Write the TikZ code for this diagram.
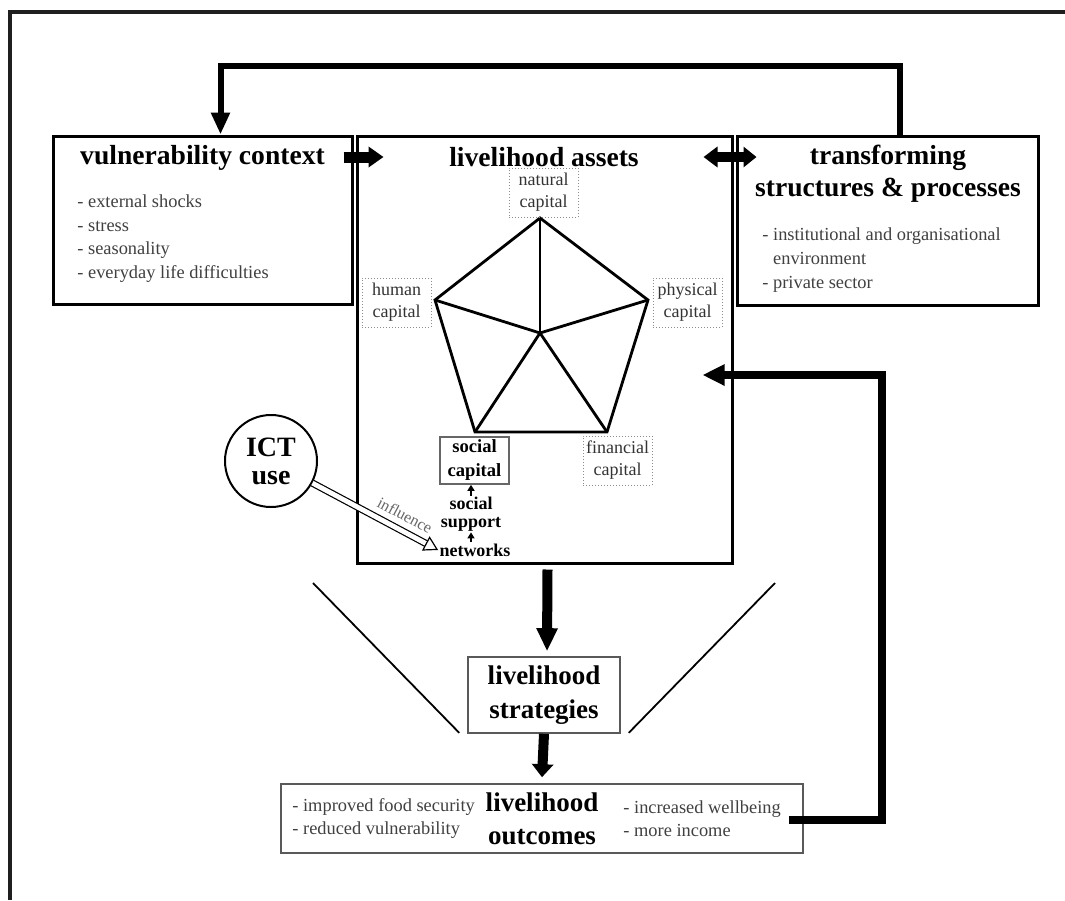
\documentclass[tikz,border=0pt]{standalone}
\usepackage{fontspec}
\setmainfont{Liberation Serif}
\usetikzlibrary{arrows.meta,positioning,calc}
\tikzset{
  bigbox/.style = {draw, line width=1.5pt, inner sep=0pt},
  thinbox/.style = {draw=black!65, line width=0.8pt, inner sep=0pt},
  head/.style = {font=\fontsize{13.8}{16}\selectfont\bfseries, align=center, inner sep=0pt},
  bullets/.style = {font=\fontsize{9.2}{11.8}\selectfont, text=black!75, align=left, inner sep=0pt},
  capbox/.style = {draw=black!45, densely dotted, line width=0.5pt, minimum width=34.5pt,
                   minimum height=24.5pt, inner sep=0pt, align=center,
                   font=\fontsize{9}{11}\selectfont, text=black!80},
  socbox/.style = {draw=black!60, line width=0.8pt, minimum width=34.5pt, minimum height=23.5pt,
                   inner sep=0pt, align=center, font=\fontsize{9.3}{12}\selectfont\bfseries},
  smallbold/.style = {font=\fontsize{9}{8.8}\selectfont\bfseries, align=center, inner sep=0.5pt},
  pent/.style = {line width=1.4pt, line join=miter},
  fatarrow/.style = {line width=5.5pt, -{Triangle[length=7.5pt, width=10pt]}},
  tinyarrow/.style = {line width=1pt, -{Triangle[length=3pt, width=3.5pt]}},
  loopline/.style = {line width=3pt, -{Triangle[length=11pt, width=9pt]}}
}

\begin{document}
\begin{tikzpicture}[x=0.5pt, y=-0.5pt]
	\useasboundingbox (0,0) rectangle (1065,900);

	% Frame
	\draw[black!88, line width=2pt] (10,900) -- (10,12) -- (1066,12);

	% Boxes
	\node[bigbox, minimum width=149.5pt, minimum height=84pt] (vuln) at (202.5,220) {};
	\node[bigbox, minimum width=187.5pt, minimum height=213.5pt] (assets) at (544.5,349.5) {};
	\node[bigbox, minimum width=150.5pt, minimum height=84.5pt] (trans) at (887.5,220.5) {};

	% Vulnerability context
	\node[head] (vulnhead) at (202.5,158) {vulnerability context};
	\node[bullets, anchor=west] (vulnlist) at (77,238.5)
		{- external shocks\\- stress\\- seasonality\\- everyday life difficulties};

	% Livelihood assets
	\node[head] (assetshead) at (544,157) {livelihood assets};

	% Transforming structures
	\node[head] (transhead) at (888,174) {transforming\\structures \& processes};
	\node[bullets, anchor=west] (translist) at (762,260)
		{- institutional and organisational\\\phantom{- }environment\\- private sector};

	% Pentagon
	\coordinate (pN) at (540,218);
	\coordinate (pP) at (648,300);
	\coordinate (pF) at (607,432);
	\coordinate (pS) at (475,432);
	\coordinate (pH) at (435,300);
	\coordinate (pC) at (540,333);
	\draw[pent] (pN) -- (pP) -- (pF) -- (pS) -- (pH) -- cycle;
	\foreach \v in {pN,pP,pF,pS,pH}
		\draw[pent] (pC) -- (\v);

	% Capitals
	\node[capbox] (natural) at (543.5,192.5) {natural\\capital};
	\node[capbox] (human) at (396.5,302.5) {human\\capital};
	\node[capbox] (physical) at (687.5,302.5) {physical\\capital};
	\node[capbox] (financial) at (617.5,460.5) {financial\\capital};
	\node[socbox] (soccap) at (474.5,460.5) {social\\capital};

	% Social support networks
	\node[smallbold] (support) at (471,514) {social\\support};
	\node[smallbold] (netw) at (475,550) {networks};
	\draw[tinyarrow] (netw.north -| support.center) -- (support.south);
	\draw[tinyarrow] (support.north) -- (soccap.south -| support.center);

	% ICT use
	\node[circle, draw, line width=1pt, minimum size=46pt, inner sep=0pt, align=center,
		font=\fontsize{14}{14}\selectfont\bfseries] (ict) at (271,461) {ICT\\use};
	\draw[line width=0.6pt, double=white, double distance=2.4pt,
		-{Triangle[open, length=7pt, width=8pt]}] (ict) -- (netw.west)
		node[pos=0.68, sloped, above=1pt, font=\fontsize{8}{8}\selectfont, text=black!60] (infltxt) {influence};

	% Strategies & outcomes
	\node[thinbox, head, font=\fontsize{13.5}{17}\selectfont\bfseries,
		minimum width=76pt, minimum height=38pt] (strat) at (544,695) {livelihood\\strategies};
	\node[thinbox, head, font=\fontsize{13.5}{16.5}\selectfont\bfseries,
		minimum width=261pt, minimum height=34.5pt] (outcomes) at (542,818.5) {livelihood\\outcomes};
	\node[bullets, anchor=west, font=\fontsize{9.2}{11.5}\selectfont] (outleft) at (292,818.5)
		{- improved food security\\- reduced vulnerability};
	\node[bullets, anchor=west, font=\fontsize{9.2}{11.5}\selectfont] (outright) at (623,818.5)
		{- increased wellbeing\\- more income};

	% V lines
	\coordinate (vleft) at (313,583);
	\coordinate (vright) at (775,583);
	\draw[line width=0.9pt] (vleft) -- ($(strat.south west)+(-8,-1)$);
	\draw[line width=0.9pt] (vright) -- ($(strat.south east)+(8,-1)$);

	% Arrows
	\draw[fatarrow] ($(vuln.east |- assetshead)+(-10,0)$) -- ($(assets.west |- assetshead)+(28,0)$);
	\draw[line width=5pt, {Triangle[length=7pt, width=10pt]}-{Triangle[length=6.5pt, width=10pt]}]
		($(assets.east |- assetshead)+(-30,0)$) -- ($(trans.west |- assetshead)+(21,0)$);
	\draw[line width=5pt, -{Triangle[length=11.5pt, width=10pt]}]
		($(assets.south)+(3,5)$) -- ($(strat.north)+(3,-5)$);
	\draw[line width=5pt, -{Triangle[length=6.5pt, width=10.5pt]}]
		(strat.south) -- ($(outcomes.north)+(0,-6)$);

	% Feedback loops
	\coordinate (topline) at (560,66);
	\draw[loopline] ($(trans.north)+(12,0)$) |- (topline) -| ($(vuln.north)+(18,0)$);
	\coordinate (fbturn) at (882,375);
	\draw[line width=4pt, -{Triangle[length=11pt, width=10pt]}]
		($(outcomes.east)+(-15,1.5)$) -| (fbturn) -- ($(assets.east |- fbturn)+(-31,0)$);

\end{tikzpicture}
\end{document}
